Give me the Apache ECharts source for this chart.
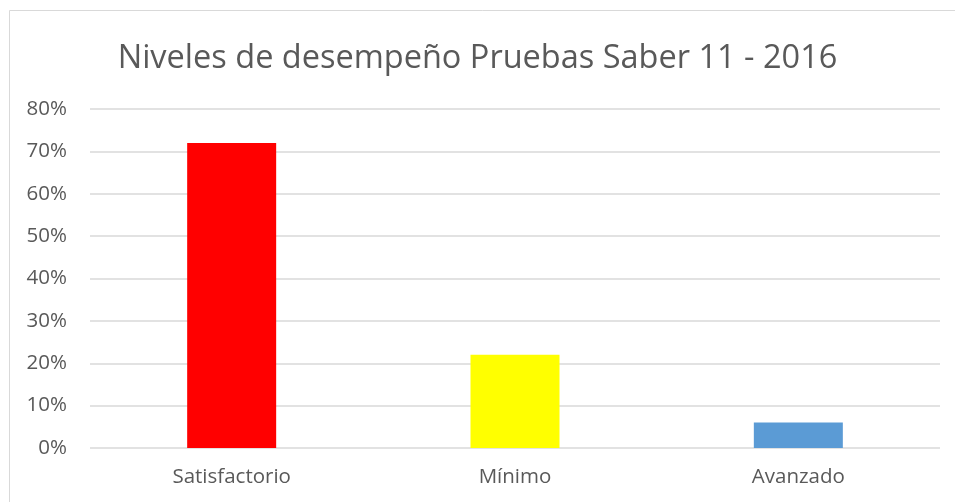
<!DOCTYPE html>
<html>
<head>
<meta charset="utf-8">
<script src="https://cdn.jsdelivr.net/npm/echarts@6/dist/echarts.min.js"></script>
<style>
html,body{margin:0;padding:0;background:#fff;}
#chart{width:955px;height:502px;}
</style>
</head>
<body>
<div id="chart"></div>
<script>
var categories = ['Satisfactorio', 'Mínimo', 'Avanzado'];
var values = [0.72, 0.22, 0.06];
var barColors = ['#ff0000', '#ffff00', '#5b9bd5'];
var titleText = 'Niveles de desempeño Pruebas Saber 11 - 2016';

var myChart = echarts.init(document.getElementById('chart'));
var option = {
    backgroundColor: '#fff',
    animation: false,
    title: {
        text: titleText,
        left: 'center',
        top: 37,
        textStyle: {
            fontFamily: 'Open Sans',
            fontWeight: 'normal',
            fontSize: 32.5,
            color: '#595959'
        }
    },
    graphic: [{
        type: 'polyline',
        shape: { points: [[9.5, 520], [9.5, 10.5], [960, 10.5]] },
        style: { stroke: '#d9d9d9', fill: null, lineWidth: 1 },
        silent: true
    }],
    grid: {
        left: 90,
        right: 15,
        top: 109,
        bottom: 54
    },
    xAxis: {
        type: 'category',
        data: categories,
        axisTick: { show: false },
        axisLine: { show: false },
        axisLabel: {
            fontFamily: 'Open Sans',
            fontSize: 20.5,
            color: '#595959',
            margin: 19
        }
    },
    yAxis: {
        type: 'value',
        min: 0,
        max: 0.8,
        interval: 0.1,
        axisLine: { show: false },
        axisTick: { show: false },
        splitLine: { lineStyle: { color: '#d9d9d9', width: 1.5 } },
        axisLabel: {
            fontFamily: 'Open Sans',
            fontSize: 20.5,
            color: '#595959',
            margin: 23,
            formatter: function (v) {
                return Math.round(v * 100) + '%';
            }
        }
    },
    series: [{
        type: 'bar',
        barWidth: 89,
        data: values.map(function (v, i) {
            return { value: v, itemStyle: { color: barColors[i] } };
        })
    }]
};
option && myChart.setOption(option);
window.addEventListener('resize', function () {
    myChart.resize();
});
</script>
</body>
</html>
